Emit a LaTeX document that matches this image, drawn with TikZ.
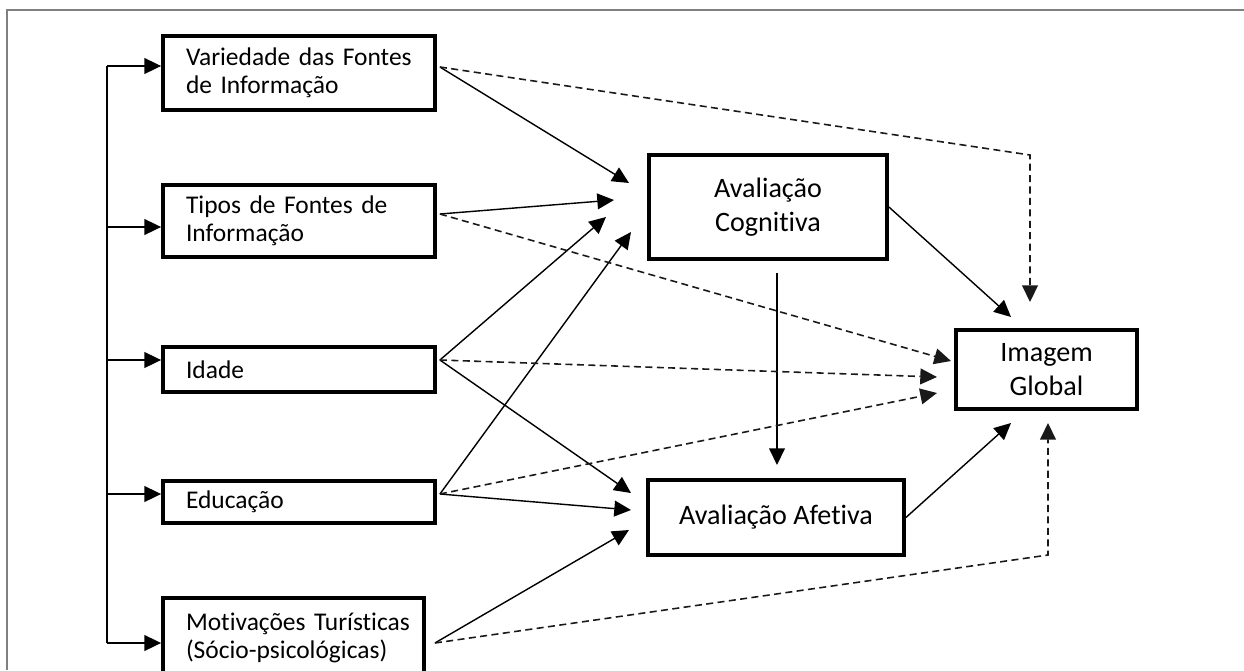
\documentclass[tikz,border=0pt]{standalone}
\usepackage{fontspec}
\setmainfont{Carlito}[Ligatures=NoCommon]
\usepackage{tikz}
\usetikzlibrary{arrows.meta,calc}

\begin{document}
\begin{tikzpicture}[x=0.02cm,y=-0.02cm,
  lbox/.style={draw,line width=2.2pt,align=left,text width=4.52cm,inner xsep=0.46cm,inner ysep=0pt,font=\fontsize{14.5}{16}\selectfont},
  rbox/.style={draw,line width=2.2pt,align=center,inner sep=0pt,font=\fontsize{16}{19}\selectfont},
  arr/.style={-{Triangle[length=9.5pt,width=9pt]},line width=0.8pt},
  dsh/.style={arr,dash pattern=on 4pt off 2.5pt,draw=black!90,line width=0.9pt}]
\useasboundingbox (0,0) rectangle (1244,670);
\draw[gray,line width=1pt] (7,670) -- (7,10) -- (1244,10);

\node[lbox,minimum height=1.48cm] (var) at (299,73) {\mbox{Variedade das Fontes}\\de Informação};
\node[lbox,minimum height=1.44cm] (tipos) at (299,221) {\mbox{Tipos de Fontes de}\\Informação};
\node[lbox,minimum height=0.9cm] (idade) at (299,369.5) {Idade};
\node[lbox,minimum height=0.84cm] (educ) at (299,502) {Educação};
\node[lbox,text width=4.3cm,minimum height=1.6cm] (motiv) at (293.5,638) {\mbox{Motivações Turísticas}\\\mbox{(Sócio-psicológicas)}};

\node[rbox,minimum width=4.76cm,minimum height=2.08cm] (cog) at (768,207) {Avaliação\\Cognitiva};
\node[rbox,minimum width=3.62cm,minimum height=1.58cm] (img) at (1046.5,369.5) {Imagem\\Global};
\node[rbox,minimum width=5.12cm,minimum height=1.5cm] (afet) at (776,517.5) {Avaliação Afetiva};

\coordinate (s1) at (107,66);
\coordinate (s2) at (107,227);
\coordinate (s3) at (107,360);
\coordinate (s4) at (107,494);
\coordinate (s5) at (107,643);
\draw[line width=0.8pt] (s1) -- (s5);
\draw[arr] (s1) -- (s1 -| var.west);
\draw[arr] (s2) -- (s2 -| tipos.west);
\draw[arr] (s3) -- (s3 -| idade.west);
\draw[arr] (s4) -- (s4 -| educ.west);
\draw[arr] (s5) -- (s5 -| motiv.west);

\coordinate (o1) at ($(var.east)+(3,-6)$);
\coordinate (o2) at ($(tipos.east)+(3,-7)$);
\coordinate (o3) at ($(idade.east)+(3,-9.5)$);
\coordinate (o4) at ($(educ.east)+(3,-8)$);
\coordinate (o5) at ($(motiv.east)+(9,5)$);

\coordinate (c1) at (629,183);
\coordinate (c2) at (614,200);
\coordinate (c3) at (606,217);
\coordinate (c4) at (631,232);
\coordinate (a1) at (631,493);
\coordinate (a2) at (631,510);
\coordinate (a3) at (629,530);
\coordinate (i1) at (1030,302);
\coordinate (i2) at (951,361);
\coordinate (i3) at (937,377);
\coordinate (i4) at (937,393);
\coordinate (i5) at (1011,317);
\coordinate (i6) at (1011,423);
\coordinate (i7) at (1048,423);
\coordinate (k1) at (1030,155);
\coordinate (k2) at (1048,555);
\coordinate (cb) at (777,273);
\coordinate (ct) at (777,465);

\draw[arr] (o1) -- (c1);
\draw[arr] (o2) -- (c2);
\draw[arr] (o3) -- (c3);
\draw[arr] (o4) -- (c4);
\draw[arr] (o3) -- (a1);
\draw[arr] (o4) -- (a2);
\draw[arr] (o5) -- (a3);
\draw[arr] (cb) -- (ct);
\draw[arr] (cog.east) -- (i5);
\draw[arr] (afet.east) -- (i6);

\draw[dsh] (o1) -- (k1) -- (i1);
\draw[dsh] (o2) -- (i2);
\draw[dsh] (o3) -- (i3);
\draw[dsh] (o4) -- (i4);
\draw[dsh] (o5) -- (k2) -- (i7);
\end{tikzpicture}
\end{document}
